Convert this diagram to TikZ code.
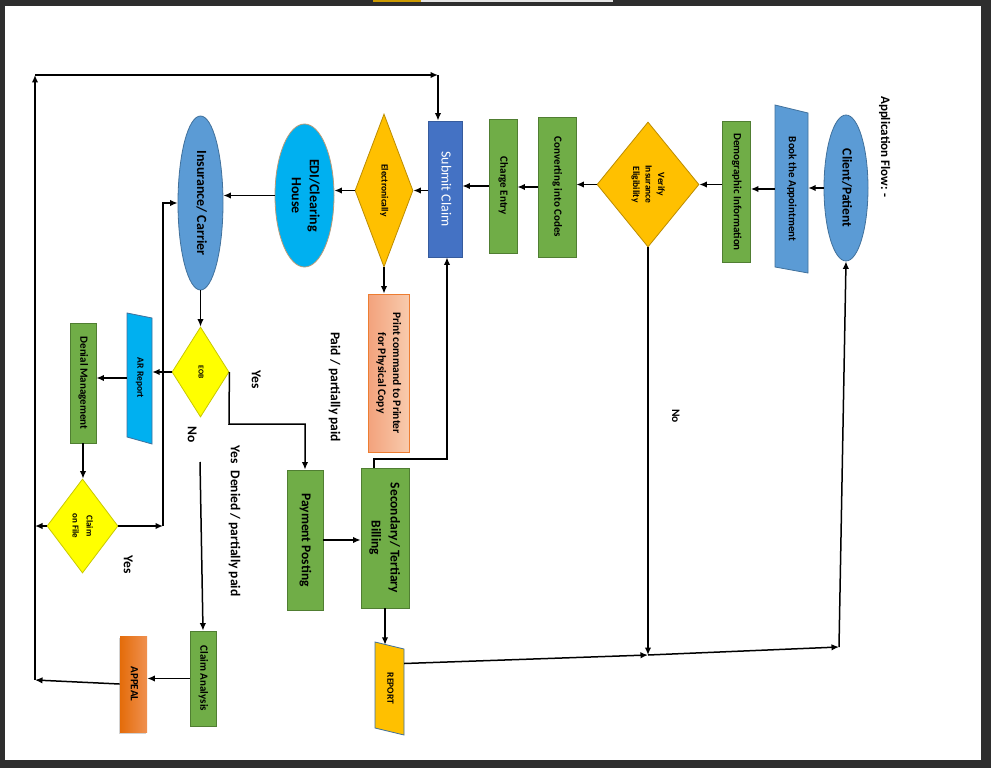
\documentclass[tikz,border=0pt]{standalone}
\usepackage{fontspec}
\setmainfont{Carlito}
\usepackage{graphicx}
\usetikzlibrary{shapes.geometric, arrows.meta, shadows}

\definecolor{frame}{HTML}{2E2E2E}
\definecolor{blueA}{HTML}{5B9BD5}
\definecolor{blueAline}{HTML}{41719C}
\definecolor{greenA}{HTML}{70AD47}
\definecolor{greenAline}{HTML}{507E32}
\definecolor{goldA}{HTML}{FFC000}
\definecolor{goldAline}{HTML}{BC8C00}
\definecolor{royal}{HTML}{4472C4}
\definecolor{cyanA}{HTML}{00B0F0}
\definecolor{yellowA}{HTML}{FFFF00}
\definecolor{yellowAline}{HTML}{C8C800}
\definecolor{salmonL}{HTML}{F3A27C}
\definecolor{salmonR}{HTML}{F8CBAD}
\definecolor{orangeA}{HTML}{ED7D31}
\definecolor{orangeD}{HTML}{E46C0A}
\definecolor{tanline}{HTML}{B89A78}

% text turned to read from top to bottom
\newcommand{\vlab}[1]{\rotatebox{-90}{\begin{tabular}{@{}c@{}}#1\end{tabular}}}

\begin{document}
\begin{tikzpicture}[
			x=1pt, y=-1pt,
			box/.style={draw=greenAline, fill=greenA, rectangle, inner sep=0pt, line width=0.8pt, font=\bfseries\fontsize{11}{13}\selectfont},
			oval/.style={draw=blueAline, fill=blueA, ellipse, inner sep=0pt, line width=0.8pt, font=\bfseries\fontsize{13.5}{17}\selectfont},
			decision/.style={draw=goldAline, fill=goldA, diamond, inner sep=0pt, line width=0.8pt, font=\bfseries\fontsize{9.5}{12.5}\selectfont},
			slant/.style={draw=blueAline, line width=0.8pt},
			lbl/.style={font=\bfseries\fontsize{13.5}{16}\selectfont, inner sep=0pt},
			arrow/.style={-{Latex[length=7.5pt,width=6.5pt]}, line width=1.5pt}
			]
			
			% Page and frame
			\useasboundingbox (0,0) rectangle (991,768);
			\fill[frame] (0,0) rectangle (991,768);
			\fill[white] (5,6) rectangle (981,760);
			\fill[goldA!80!black] (373,0) rectangle (421,2);
			\fill[white!90!black] (421,0) rectangle (613,2);
			
			% Slanted shapes
			\filldraw[slant, fill=blueA] (775,105) -- (808,113) -- (808,273) -- (775,267) -- cycle;
			\filldraw[slant, fill=cyanA] (127,313) -- (152,318) -- (152,444) -- (127,437) -- cycle;
			\filldraw[slant, fill=goldA] (375,642) -- (404,649) -- (404,735) -- (375,728) -- cycle;
			
			% Nodes
			\node (client) [oval, minimum width=44pt, minimum height=146pt] at (846,188) {\vlab{Client/Patient}};
			\node (book) [inner sep=0pt, minimum width=33pt, minimum height=160pt, font=\bfseries\fontsize{11}{13}\selectfont] at (791.5,189) {\vlab{Book the Appointment}};
			\node (demo) [box, minimum width=28pt, minimum height=141pt] at (736.5,192) {\vlab{Demographic Information}};
			\node (verify) [decision, aspect=0.8, minimum width=102pt, minimum height=125pt] at (648,184.5) {\vlab{Verify\\Insurance\\Eligibility}};
			\node (conv) [box, minimum width=38pt, minimum height=140pt] at (557,187) {\vlab{Converting into Codes}};
			\node (charge) [box, minimum width=28pt, minimum height=134pt] at (503,186) {\vlab{Charge Entry}};
			\node (submit) [box, draw=royal!80!black, fill=royal, text=white, minimum width=34pt, minimum height=136pt, font=\fontsize{14}{17}\selectfont] at (445,189) {\vlab{Submit Claim}};
			\node (elec) [decision, aspect=0.38, minimum width=58pt, minimum height=153pt] at (384,190.5) {\vlab{Electronically}};
			\node (edi) [oval, draw=tanline, fill=cyanA, minimum width=59pt, minimum height=143pt, font=\bfseries\fontsize{14}{18}\selectfont] at (304.5,195.5) {\vlab{EDI/Clearing\\House}};
			\node (ins) [oval, minimum width=45pt, minimum height=174pt, font=\bfseries\fontsize{14}{17}\selectfont] at (200.5,203) {\vlab{Insurance/ Carrier}};
			\node (print) [box, draw=orangeA, left color=salmonL, right color=salmonR, minimum width=41pt, minimum height=158pt, font=\bfseries\fontsize{11.5}{15}\selectfont] at (388.5,373) {\vlab{Print command to Printer\\for Physical Copy}};
			\node (eob) [decision, draw=yellowAline, fill=yellowA, aspect=0.6, minimum width=57pt, minimum height=90pt, font=\bfseries\fontsize{7.5}{9}\selectfont] at (200.5,372) {\vlab{EOB}};
			\node (ar) [inner sep=0pt, minimum width=25pt, minimum height=126pt, font=\bfseries\fontsize{9.5}{11}\selectfont] at (139.5,378) {\vlab{AR Report}};
			\node (denial) [box, minimum width=26pt, minimum height=120pt] at (83,383) {\vlab{Denial Management}};
			\node (cof) [decision, draw=yellowAline, fill=yellowA, aspect=0.75, minimum width=71pt, minimum height=94pt, font=\bfseries\fontsize{9}{14}\selectfont] at (82.5,526) {\vlab{Claim\\on File}};
			\node (payment) [box, minimum width=36pt, minimum height=140pt, font=\bfseries\fontsize{13.5}{16}\selectfont] at (305,540) {\vlab{Payment Posting}};
			\node (secondary) [box, minimum width=48pt, minimum height=140pt, font=\bfseries\fontsize{13.5}{19}\selectfont] at (385,538) {\vlab{Secondary/ Tertiary\\Billing}};
			\node (analysis) [box, minimum width=26pt, minimum height=95pt] at (203,678.5) {\vlab{Claim Analysis}};
			\node (appeal) [box, draw=none, left color=orangeD, right color=orangeA!85!white, drop shadow={shadow xshift=-1.5pt, shadow yshift=-2pt, opacity=0.35}, minimum width=27pt, minimum height=96pt, font=\bfseries\fontsize{11}{13}\selectfont] at (133.5,684) {\vlab{APPEAL}};
			\node (report) [inner sep=0pt, minimum width=29pt, minimum height=87pt, font=\bfseries\fontsize{9.5}{11}\selectfont] at (389.5,688.5) {\vlab{REPORT}};
			
			% Labels
			\node (appflow) [lbl, font=\bfseries\fontsize{13}{15}\selectfont] at (884,147) {\vlab{Application Flow: -}};
			\node (noA) [lbl, font=\bfseries\fontsize{11.5}{14}\selectfont] at (675,416) {\vlab{No}};
			\node (yesA) [lbl] at (255,380) {\vlab{Yes}};
			\node (noB) [lbl] at (191,435) {\vlab{No}};
			\node (paid) [lbl] at (334,387) {\vlab{Paid / partially paid}};
			\node (denied) [lbl] at (234,521) {\vlab{Yes\enspace Denied / partially paid}};
			\node (yesB) [lbl] at (127,565) {\vlab{Yes}};
			
			% Corner points
			\coordinate (lb) at (35,680);
			\coordinate (lt) at (35,75);
			\coordinate (rt) at (438,75);
			\coordinate (vl) at (163,526);
			\coordinate (ej) at (229,424);
			\coordinate (noend) at (200,462);
			\coordinate (sb) at (374,459);
			\coordinate (mid) at (648,655);
			\coordinate (rb) at (839,647);
			
			% Connections
			\draw [arrow] (client.west) -- (client.west -| book.east);
			\draw [arrow] (book.west) -- (book.west -| demo.east);
			\draw [arrow] (demo.west |- verify.east) -- (verify.east);
			\draw [arrow] (verify.west) -- (verify.west -| conv.east);
			\draw [arrow] (conv.west) -- (conv.west -| charge.east);
			\draw [arrow] (charge.west) -- (charge.west -| submit.east);
			\draw [arrow] (submit.west |- elec.east) -- (elec.east);
			\draw [arrow] (elec.west) -- (elec.west -| edi.east);
			\draw [arrow] (edi.west) -- (edi.west -| ins.east);
			\draw [arrow] (elec.south) -- (elec.south |- print.north);
			\draw [arrow] (ins.south) -- (ins.south |- eob.north);
			\draw [arrow] (eob.west) -- (eob.west -| ar.east);
			\draw [arrow] (ar.west) -- (ar.west -| denial.east);
			\draw [arrow] (denial.south) -- (denial.south |- cof.north);
			\draw [arrow] (cof.east) -- (vl);
			\draw [arrow] (vl) |- (ins.west);
			\draw [arrow] (cof.west) -- (cof.west -| lb);
			\draw [arrow] (eob.east) -- (ej) -| (payment.north);
			\draw [arrow] (noend) -- (analysis.north);
			\draw [arrow] (analysis.west) -- (analysis.west -| appeal.east);
			\draw [arrow] (appeal.west) -- (lb);
			\draw [arrow] (lb) -- (lt);
			\draw [arrow] (lt) -- (rt);
			\draw [arrow] (rt) -- (rt |- submit.north);
			\draw [arrow] (payment.east) -- (payment.east -| secondary.west);
			\draw [arrow] (sb |- secondary.north) -- (sb) -| ([xshift=2pt]submit.south);
			\draw [arrow] (secondary.south) -- (secondary.south |- report.north);
			\draw [arrow] ([yshift=25pt]report.east) -- (mid);
			\draw [arrow] (verify.south) -- (mid);
			\draw [arrow] (mid) -- (rb);
			\draw [arrow] (rb) -- (client.south);
			
		\end{tikzpicture}
\end{document}
